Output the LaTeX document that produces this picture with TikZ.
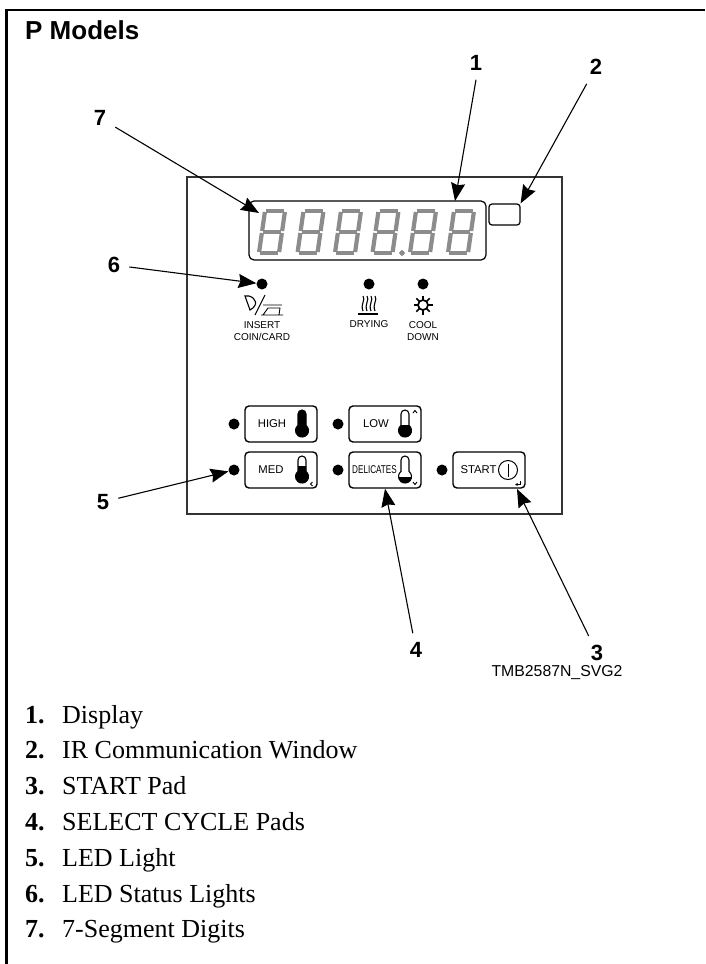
\documentclass[tikz,border=0pt]{standalone}
\usepackage{fontspec}
\setmainfont{Liberation Sans}
\newfontfamily\listfont{Liberation Serif}
\usetikzlibrary{arrows.meta}

\newcommand{\sevenseg}[1]{%
\begin{scope}[shift={(#1,209)}]
\foreach \ax/\ay/\bx/\by in {8/2/28/2, 28/2/25/23, 25/23/22/44, 22/44/2/44, 2/44/5/23, 5/23/8/2, 5/23/25/23}
  \draw[seg] (\ax,\ay) -- (\bx,\by);
\end{scope}}

\newcommand{\thermo}[3]{%
\begin{scope}[shift={(#1,#2)}]
\begin{scope}
\clip (-4,15.4) -- (-4,4) arc (180:360:4) -- (4,15.4) arc (-52:232:6.5) -- cycle;
\fill (-8,#3) rectangle (8,28);
\end{scope}
\draw[line width=1.1pt] (-4,15.4) -- (-4,4) arc (180:360:4) -- (4,15.4) arc (-52:232:6.5) -- cycle;
\end{scope}}

\begin{document}
\begin{tikzpicture}[
x=1pt, y=-1pt,
callout/.style={-{Stealth[length=18pt, width=14pt, inset=2pt]}, line width=1.1pt},
calloutnum/.style={font=\fontsize{22}{24}\selectfont\bfseries, inner sep=9pt},
panelbox/.style={draw=black!80, line width=1.2pt, minimum width=375pt, minimum height=337pt, inner sep=0pt},
dispbox/.style={draw, line width=1.2pt, rounded corners=5pt, minimum width=237pt, minimum height=59pt, inner sep=0pt},
irbox/.style={draw, line width=1.2pt, rounded corners=3pt, minimum width=31pt, minimum height=21pt, inner sep=0pt},
pad/.style={draw, line width=1.4pt, rounded corners=4pt, minimum width=72pt, minimum height=36pt, inner sep=0pt},
padtext/.style={font=\fontsize{11.3}{13}\selectfont, inner sep=0pt},
led/.style={circle, fill=black, minimum size=11pt, inner sep=0pt},
small/.style={font=\fontsize{10}{12}\selectfont, align=center, inner sep=0pt},
seg/.style={draw=black!45, line width=4.2pt, shorten <=1pt, shorten >=1pt},
thin/.style={line width=0.9pt},
listnum/.style={font=\listfont\fontsize{26}{28}\selectfont\bfseries, anchor=base west, inner sep=0pt},
listtext/.style={font=\listfont\fontsize{26}{28}\selectfont, anchor=base west, inner sep=0pt}
]
\useasboundingbox (0,0) rectangle (705,964);

% frame and title
\draw[line width=2.4pt] (6.5,964) -- (6.5,10) -- (705,10);
\node[font=\fontsize{26}{28}\selectfont\bfseries, anchor=base west, inner sep=0pt] (title) at (25,39) {P Models};

% panel
\node[panelbox] (panel) at (374.5,345.5) {};
\node[dispbox] (display) at (367.5,230.5) {};
\node[irbox] (irwindow) at (504.5,214.5) {};
\foreach \dx in {257,295.5,333,370.5,408,446} \sevenseg{\dx}
\fill[black!45] (402,253) circle (2.4);

% status lights
\node[led] (ledcoin) at (262,284) {};
\node[led] (leddry) at (369,284) {};
\node[led] (ledcool) at (423,284) {};
\node[small] (coin) at (262,331) {INSERT\\COIN/CARD};
\node[small] (dry) at (369,324) {DRYING};
\node[small] (cool) at (423,331) {COOL\\DOWN};

% coin and card icon
\draw[line width=1.1pt] (245,296) -- (249,296) .. controls (256,298) and (259,305) .. (250,310) -- cycle;
\draw[line width=1.1pt] (265,295) -- (255,315);
\draw[thin] (263,305) -- (282,305) (268,308) -- (280,308) -- (279,315) (268,308) -- (263,315) (261,315) -- (283,315);

% drying icon
\foreach \wx in {363,367,371,375}
  \draw[line width=1.1pt] (\wx,296) .. controls (\wx+3,300) and (\wx-3,304) .. (\wx,311);
\draw[line width=1.1pt] (358,314) -- (378,314);

% cool down icon
\draw[line width=1.7pt] (423,305) circle (5);
\foreach \ang in {0,45,...,315}
  \draw[line width=1.5pt] (423,305) ++(\ang:5) -- ++(\ang:4.5);

% pads
\node[pad] (high) at (281,424) {};
\node[pad] (med) at (281,470) {};
\node[pad] (low) at (385,424) {};
\node[pad] (delicates) at (385,470) {};
\node[pad] (start) at (489,470) {};
\node[padtext] (hightext) at (272,424) {HIGH};
\node[padtext] (medtext) at (271,470) {MED};
\node[padtext] (lowtext) at (376,424) {LOW};
\node[padtext] (deltext) at (374.5,470) {\scalebox{0.72}[1]{DELICATES}};
\node[padtext] (starttext) at (478.5,470) {START};
\node[led] (ledhigh) at (234,424) {};
\node[led] (ledmed) at (234,470) {};
\node[led] (ledlow) at (338,424) {};
\node[led] (leddel) at (338,470) {};
\node[led] (ledstart) at (442,470) {};
\thermo{302}{410}{0}
\thermo{302}{456}{10}
\thermo{405}{410}{15}
\thermo{405}{456}{21}

% small marks on the pads
\draw[thin] (413,413) -- (415,410.5) -- (417,413);
\draw[thin] (312.5,482) -- (310.5,484) -- (312.5,486);
\draw[thin] (413,482) -- (415,484.5) -- (417,482);
\draw[line width=1pt] (508,470) circle (9.5);
\draw[line width=1pt] (508,463.5) -- (508,476.5);
\draw[line width=0.7pt, -{Latex[length=2.5pt, width=3pt]}] (520,481) -- (520,484.5) -- (515,484.5);

% callouts
\node[calloutnum] (num1) at (476,63) {1};
\node[calloutnum] (num2) at (596,67) {2};
\node[calloutnum] (num3) at (597,653) {3};
\node[calloutnum] (num4) at (416,650) {4};
\node[calloutnum] (num5) at (103,502) {5};
\node[calloutnum] (num6) at (114,265) {6};
\node[calloutnum] (num7) at (100,118) {7};
\coordinate (tip1) at (455,201);
\coordinate (tip3) at (517,489);
\coordinate (tip7) at (259,213);
\draw[callout] (num1.south) -- (tip1);
\draw[callout] (num2) -- (irwindow.north east);
\draw[callout] (num3) -- (tip3);
\draw[callout] (num4) -- (delicates.south);
\draw[callout] (num5) -- (ledmed);
\draw[callout] (num6) -- (ledcoin);
\draw[callout] (num7) -- (tip7);
\node[font=\fontsize{15.8}{18}\selectfont, inner sep=0pt] (drawingno) at (557,673) {TMB2587N\_SVG2};

% key
\foreach \itemtext [count=\i] in {Display, IR Communication Window, START Pad, SELECT CYCLE Pads, LED Light, LED Status Lights, 7-Segment Digits} {
  \node[listnum] (key\i) at (25,723+35.8*\i-35.8) {\i.};
  \node[listtext] (keytext\i) at (62,723+35.8*\i-35.8) {\itemtext};
}
\end{tikzpicture}
\end{document}
